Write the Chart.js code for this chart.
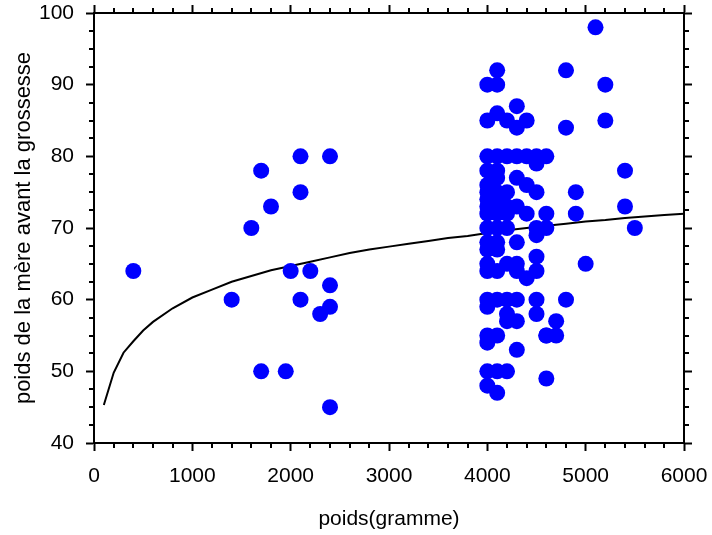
<!DOCTYPE html>
<html>
<head>
<meta charset="utf-8">
<script src="https://cdn.jsdelivr.net/npm/chart.js@4/dist/chart.umd.min.js"></script>
<style>
  html, body { margin: 0; padding: 0; background: #fff; }
  #wrap { width: 712px; height: 535px; }
</style>
</head>
<body>
<div id="wrap"><canvas id="chart" width="712" height="535"></canvas></div>
<script>
// birth weight (g) vs mother's weight before pregnancy
const birthWeights = [
  400, 1400, 1600, 1700, 1700, 1800, 1950, 2000, 2100, 2100, 2100, 2200, 2300, 2400, 2400, 2400, 2400,
  4000, 4000, 4000, 4000, 4000, 4000, 4000, 4000, 4000, 4000, 4000, 4000, 4000, 4000, 4000, 4000, 4000, 4000, 4000, 4000,
  4100, 4100, 4100, 4100, 4100, 4100, 4100, 4100, 4100, 4100, 4100, 4100, 4100, 4100, 4100, 4100, 4100,
  4200, 4200, 4200, 4200, 4200, 4200, 4200, 4200, 4200, 4200, 4200,
  4300, 4300, 4300, 4300, 4300, 4300, 4300, 4300, 4300, 4300, 4300,
  4400, 4400, 4400, 4400, 4400,
  4500, 4500, 4500, 4500, 4500, 4500, 4500, 4500, 4500,
  4600, 4600, 4600, 4600, 4600, 4600,
  4700, 4700, 4800, 4800, 4800, 4900, 4900, 5000, 5100, 5200, 5200, 5400, 5400, 5500
];
const motherWeights = [
  64, 60, 70, 78, 50, 73, 50, 64, 80, 75, 60, 64, 58, 80, 62, 59, 45,
  90, 85, 80, 78, 76, 75, 74, 73, 72, 70, 68, 67, 65, 64, 60, 59, 55, 54, 50, 48,
  92, 90, 86, 80, 78, 77, 75, 74, 72, 70, 68, 67, 64, 60, 55, 50, 47,
  85, 80, 75, 73, 72, 70, 65, 60, 58, 57, 50,
  87, 84, 80, 77, 73, 68, 65, 64, 60, 57, 53,
  85, 80, 76, 72, 63,
  80, 79, 75, 70, 69, 66, 64, 60, 58,
  80, 72, 70, 55, 49, 55,
  57, 55, 92, 84, 60, 75, 72, 65, 98, 90, 85, 78, 73, 70
];

// fitted curve
const fitX = [100, 200, 300, 400, 500, 600, 800, 1000, 1200, 1400, 1600, 1800, 2000, 2200, 2400, 2600, 2800,
  3000, 3200, 3400, 3600, 3800, 4000, 4200, 4400, 4600, 4800, 5000, 5200, 5400, 5600, 5800, 6000];
const fitY = [45.3, 49.8, 52.6, 54.2, 55.7, 56.9, 58.8, 60.3, 61.4, 62.5, 63.3, 64.1, 64.7, 65.3, 65.9, 66.5, 67.0,
  67.4, 67.8, 68.2, 68.6, 68.9, 69.3, 69.7, 70.0, 70.3, 70.6, 70.9, 71.1, 71.4, 71.6, 71.8, 72.0];

const xTicks = [0, 1000, 2000, 3000, 4000, 5000, 6000];
const yTicks = [40, 50, 60, 70, 80, 90, 100];

const FONT = 'Liberation Sans, Arial, sans-serif';

// minor tick marks on all four sides
const minorTicks = {
  id: 'minorTicks',
  afterDraw(chart) {
    const { ctx, chartArea: a, scales } = chart;
    ctx.save();
    ctx.strokeStyle = '#000';
    ctx.lineWidth = 2;
    ctx.beginPath();
    for (let v = 0; v <= 6000; v += 200) {
      if (v % 1000 === 0) continue;
      const px = Math.round(scales.x.getPixelForValue(v));
      ctx.moveTo(px, a.bottom); ctx.lineTo(px, a.bottom + 5);
      ctx.moveTo(px, a.top); ctx.lineTo(px, a.top - 5);
    }
    for (let v = 40; v <= 100; v += 2.5) {
      if (v % 10 === 0) continue;
      const py = Math.round(scales.y.getPixelForValue(v));
      ctx.moveTo(a.left, py); ctx.lineTo(a.left - 5, py);
      ctx.moveTo(a.right, py); ctx.lineTo(a.right + 5, py);
    }
    ctx.stroke();
    ctx.restore();
  }
};

// fixed box sizes, no extra room for overflowing labels
const fixBox = (size) => s => {
  if (s.isHorizontal()) s.height = size; else s.width = size;
  s.paddingTop = 0; s.paddingBottom = 0; s.paddingLeft = 0; s.paddingRight = 0;
};

const axisGrid = { drawOnChartArea: false, tickLength: 8, tickWidth: 2, tickColor: '#000' };
const axisBorder = { display: true, color: '#000', width: 2 };
const plain = v => String(v);

new Chart(document.getElementById('chart'), {
  type: 'scatter',
  data: {
    datasets: [
      {
        label: 'points',
        data: birthWeights.map((x, i) => ({ x, y: motherWeights[i] })),
        backgroundColor: '#0000ff',
        borderWidth: 0,
        pointRadius: 8,
        pointHoverRadius: 8,
      },
      {
        label: 'fit',
        data: fitX.map((x, i) => ({ x, y: fitY[i] })),
        showLine: true,
        borderColor: '#000',
        borderWidth: 2,
        pointRadius: 0,
        fill: false,
      },
    ],
  },
  options: {
    responsive: false,
    animation: false,
    layout: { padding: 0 },
    plugins: { legend: { display: false }, tooltip: { enabled: false } },
    scales: {
      x: {
        type: 'linear', position: 'bottom', min: 0, max: 6000,
        afterBuildTicks: s => { s.ticks = xTicks.map(value => ({ value })); },
        afterFit: fixBox(92),
        grid: axisGrid, border: axisBorder,
        ticks: { color: '#000', padding: 13, maxRotation: 0, callback: plain, font: { family: FONT, size: 21 } },
        title: { display: true, text: 'poids(gramme)', color: '#000', padding: { top: 0, bottom: 3 }, font: { family: FONT, size: 21 } },
      },
      x2: {
        type: 'linear', position: 'top', min: 0, max: 6000,
        afterBuildTicks: s => { s.ticks = xTicks.map(value => ({ value })); },
        afterFit: fixBox(13),
        grid: axisGrid, border: axisBorder,
        ticks: { display: false },
      },
      y: {
        type: 'linear', position: 'left', min: 40, max: 100,
        afterBuildTicks: s => { s.ticks = yTicks.map(value => ({ value })); },
        afterFit: fixBox(94),
        grid: axisGrid, border: axisBorder,
        ticks: { color: '#000', padding: 12, callback: plain, font: { family: FONT, size: 21 } },
        title: { display: true, text: 'poids de la mère avant la grossesse', color: '#000', padding: { top: 11, bottom: 0 }, font: { family: FONT, size: 22 } },
      },
      y2: {
        type: 'linear', position: 'right', min: 40, max: 100,
        afterBuildTicks: s => { s.ticks = yTicks.map(value => ({ value })); },
        afterFit: fixBox(28),
        grid: axisGrid, border: axisBorder,
        ticks: { display: false },
      },
    },
  },
  plugins: [minorTicks],
});
</script>
</body>
</html>
